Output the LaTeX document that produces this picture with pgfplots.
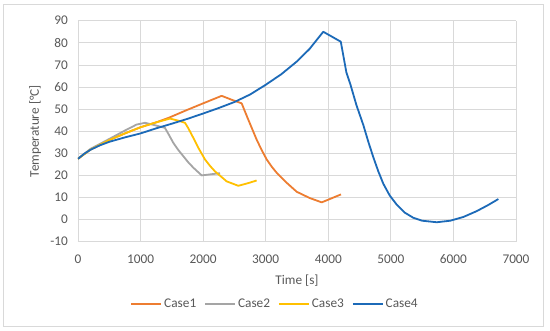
\documentclass[border=0pt]{standalone}
\usepackage{pgfplots}
\pgfplotsset{compat=1.18}
\usepackage{fontspec}
\setmainfont{Carlito}
\definecolor{cOrange}{HTML}{ED7D31}
\definecolor{cGray}{HTML}{A5A5A5}
\definecolor{cYellow}{HTML}{FFC000}
\definecolor{cBlue}{HTML}{1C6AB8}
\definecolor{cGrid}{HTML}{D9D9D9}
\definecolor{cText}{HTML}{595959}
\begin{document}
\begin{tikzpicture}
\fill[white] (-78pt,-89.3pt) rectangle (472pt,241.7pt);
\draw[cGrid, line width=0.8pt] (-74.7pt,-85pt) rectangle (465.3pt,237.7pt);
\begin{axis}[
  scale only axis, width=438pt, height=221pt,
  xmin=0, xmax=7000, ymin=-10, ymax=90,
  xtick={0,1000,...,7000}, ytick={-10,0,...,90},
  grid=major, major grid style={cGrid, line width=0.8pt},
  axis line style={draw=none},
  tick style={draw=none},
  ticklabel style={font=\fontsize{13.3}{15}\selectfont, text=cText},
  /pgf/number format/assume math mode=true,
  /pgf/number format/1000 sep={},
  xticklabel style={anchor=center, yshift=-17.6pt},
  yticklabel style={anchor=east, xshift=-6.5pt},
  xlabel={Time [s]}, ylabel={Temperature [°C]},
  label style={font=\fontsize{13.3}{15}\selectfont, text=cText},
  xlabel style={at={(axis description cs:0.5,-0.176)}, anchor=center},
  ylabel style={at={(axis description cs:-0.098,0.5)}, anchor=center},
  legend columns=4,
  legend style={at={(0.45,-0.283)}, anchor=center, draw=none, fill=none,
    font=\fontsize{13.3}{15}\selectfont, text=cText,
    /tikz/every even column/.append style={column sep=6pt}},
  legend image code/.code={\draw[#1, line width=1.8pt] (0pt,0pt) -- (30pt,0pt);},
  line join=round,
]
\addplot[cOrange, line width=1.8pt] coordinates {
(0,27.5)(200,31.7)(500,36)(750,39)(1000,41.8)(1250,44)(1444,46)(1750,49.7)(2000,52.6)(2296,56)(2450,54.3)(2616,52.6)(2660,49.5)(2722,45.2)(2790,40.6)(2855,36.2)(2935,31.5)(3016,27.2)(3100,23.8)(3175,21.2)(3330,16.8)(3495,12.6)(3700,9.8)(3895,7.8)(4050,9.6)(4203,11.4)};
\addlegendentry{Case1}
\addplot[cGray, line width=1.8pt] coordinates {
(0,27.5)(200,32)(500,36.5)(750,40.3)(936,43)(1071,43.8)(1230,42.7)(1390,41.5)(1460,38)(1524,34.7)(1600,31.6)(1683,28.7)(1760,26)(1843,23.5)(1977,20)(2270,21)};
\addlegendentry{Case2}
\addplot[cYellow, line width=1.8pt] coordinates {
(0,27.5)(200,31.7)(500,36)(750,39)(1000,41.8)(1250,44)(1470,45.7)(1600,44.8)(1710,43.8)(1760,41.5)(1843,37)(1923,32.5)(2030,27.2)(2110,24.3)(2190,21.8)(2376,17.3)(2562,15.3)(2720,16.5)(2855,17.7)};
\addlegendentry{Case3}
\addplot[cBlue, line width=1.8pt] coordinates {
(0,27.5)(100,29.8)(200,31.6)(350,33.6)(500,35.2)(750,37.2)(1000,39)(1250,41.3)(1500,43.4)(1750,45.6)(2000,48)(2250,50.5)(2500,53.2)(2750,56.6)(3000,61)(3250,65.8)(3500,71.6)(3700,77.2)(3920,85.0)(4200,80.5)(4290,66.5)(4350,61.5)(4450,51.8)(4560,42.8)(4640,35.2)(4720,28.2)(4800,21.8)(4880,16.2)(4980,11)(5093,6.8)(5220,3.2)(5360,0.8)(5500,-0.5)(5733,-1.2)(5950,-0.5)(6160,1.2)(6370,3.8)(6550,6.5)(6718,9.3)};
\addlegendentry{Case4}
\end{axis}
\end{tikzpicture}
\end{document}
